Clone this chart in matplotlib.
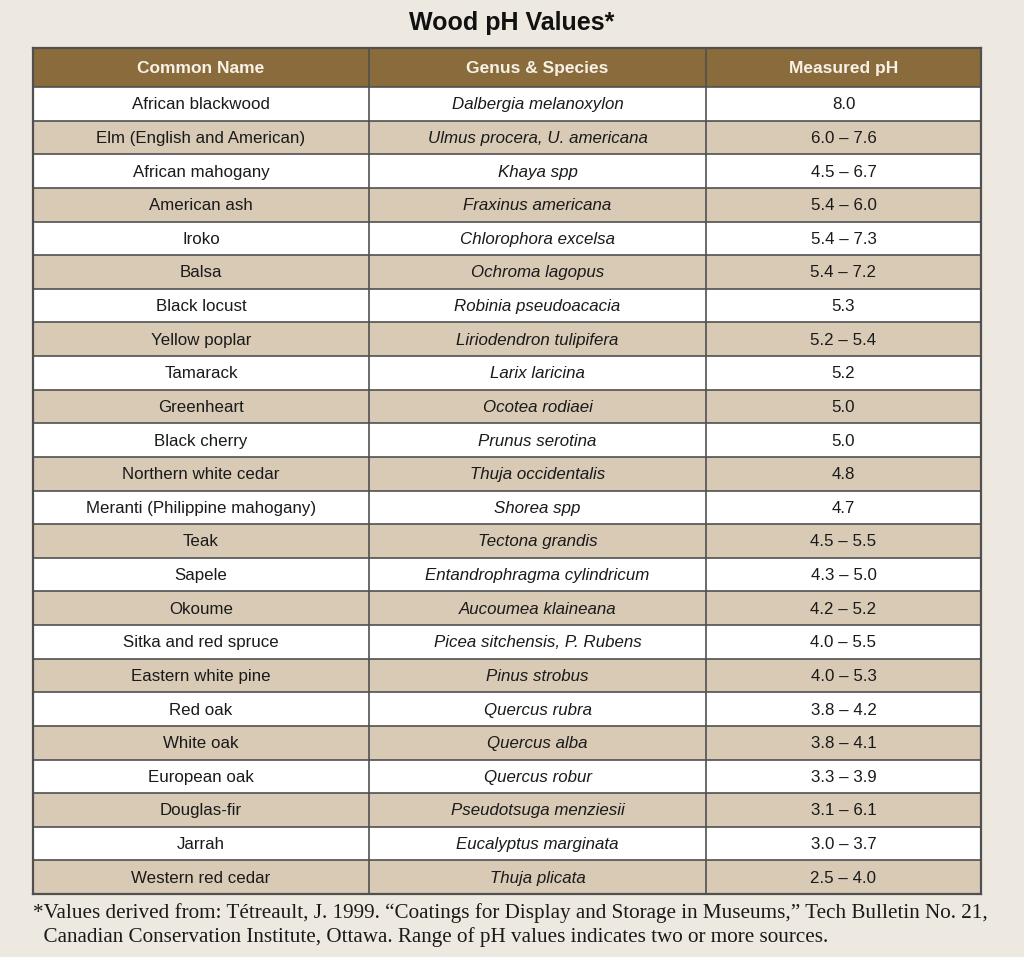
import matplotlib
matplotlib.use("Agg")
import matplotlib.pyplot as plt
from matplotlib.patches import Rectangle

common_names = [
    "African blackwood", "Elm (English and American)", "African mahogany",
    "American ash", "Iroko", "Balsa", "Black locust", "Yellow poplar",
    "Tamarack", "Greenheart", "Black cherry", "Northern white cedar",
    "Meranti (Philippine mahogany)", "Teak", "Sapele", "Okoume",
    "Sitka and red spruce", "Eastern white pine", "Red oak", "White oak",
    "European oak", "Douglas-fir", "Jarrah", "Western red cedar",
]
species = [
    "Dalbergia melanoxylon", "Ulmus procera, U. americana", "Khaya spp",
    "Fraxinus americana", "Chlorophora excelsa", "Ochroma lagopus",
    "Robinia pseudoacacia", "Liriodendron tulipifera", "Larix laricina",
    "Ocotea rodiaei", "Prunus serotina", "Thuja occidentalis", "Shorea spp",
    "Tectona grandis", "Entandrophragma cylindricum", "Aucoumea klaineana",
    "Picea sitchensis, P. Rubens", "Pinus strobus", "Quercus rubra",
    "Quercus alba", "Quercus robur", "Pseudotsuga menziesii",
    "Eucalyptus marginata", "Thuja plicata",
]
ph_values = [
    "8.0", "6.0 – 7.6", "4.5 – 6.7", "5.4 – 6.0", "5.4 – 7.3", "5.4 – 7.2",
    "5.3", "5.2 – 5.4", "5.2", "5.0", "5.0", "4.8", "4.7", "4.5 – 5.5",
    "4.3 – 5.0", "4.2 – 5.2", "4.0 – 5.5", "4.0 – 5.3", "3.8 – 4.2",
    "3.8 – 4.1", "3.3 – 3.9", "3.1 – 6.1", "3.0 – 3.7", "2.5 – 4.0",
]
headers = ["Common Name", "Genus & Species", "Measured pH"]
title = "Wood pH Values*"
footnote = ["*Values derived from: Tétreault, J. 1999. \u201cCoatings for Display and Storage in Museums,\u201d Tech Bulletin No. 21,",
            "  Canadian Conservation Institute, Ottawa. Range of pH values indicates two or more sources."]

bg = "#EEE9E0"
head_col = "#8A6C3C"
alt_col = "#D8CAB5"
line_col = "#505050"
sans = ["Liberation Sans", "DejaVu Sans"]

fig = plt.figure(figsize=(10.24, 9.57), dpi=100, facecolor=bg)
ax = fig.add_axes([0, 0, 1, 1])
ax.set_xlim(0, 1024)
ax.set_ylim(957, 0)
ax.axis("off")

col_x = [33, 369, 706, 981]
top = 48
head_h = 39
row_h = (894 - 87) / len(common_names)

ax.text(512, 23, title, ha="center", va="center", fontsize=18, fontweight="bold",
        family=sans, color="#111111")

# header
ax.add_patch(Rectangle((col_x[0], top), col_x[-1] - col_x[0], head_h, facecolor=head_col, edgecolor="none"))
for i, h in enumerate(headers):
    cx = (col_x[i] + col_x[i + 1]) / 2
    ax.text(cx, top + head_h / 2 + 1, h, ha="center", va="center", color="#F7F1E6",
            fontsize=12.5, fontweight="bold", family=sans)

# rows
y0 = top + head_h
for r in range(len(common_names)):
    y = y0 + r * row_h
    fc = "white" if r % 2 == 0 else alt_col
    ax.add_patch(Rectangle((col_x[0], y), col_x[-1] - col_x[0], row_h, facecolor=fc, edgecolor="none"))
    cy = y + row_h / 2 + 1
    cells = [common_names[r], species[r], ph_values[r]]
    for i, t in enumerate(cells):
        cx = (col_x[i] + col_x[i + 1]) / 2
        ax.text(cx, cy, t, ha="center", va="center", fontsize=12.2, color="#1a1a1a",
                family=sans, style="italic" if i == 1 else "normal")

# grid lines
bottom = y0 + len(common_names) * row_h
for r in range(len(common_names) + 1):
    y = y0 + r * row_h
    ax.plot([col_x[0], col_x[-1]], [y, y], color=line_col, lw=1.2)
ax.plot([col_x[0], col_x[-1]], [top, top], color=line_col, lw=1.6)
ax.plot([col_x[0], col_x[-1]], [bottom, bottom], color=line_col, lw=1.6)
for x in col_x:
    ax.plot([x, x], [top, bottom], color=line_col, lw=1.2 if x not in (col_x[0], col_x[-1]) else 1.6)

ax.text(33, 913, footnote[0], ha="left", va="center", fontsize=15.2,
        family="Liberation Serif", color="#1a1a1a")
ax.text(33, 937, footnote[1], ha="left", va="center", fontsize=15.2,
        family="Liberation Serif", color="#1a1a1a")

fig.savefig("out.png", dpi=100, facecolor=bg)
